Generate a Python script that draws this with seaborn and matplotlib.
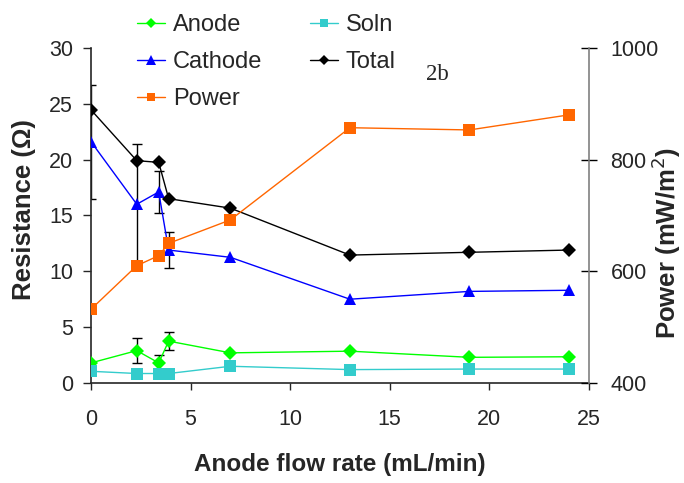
import numpy as np
import pandas as pd
import seaborn as sns
import matplotlib
matplotlib.use("Agg")
import matplotlib.pyplot as plt
from matplotlib.lines import Line2D

flow = [0, 2.3, 3.4, 3.9, 7, 13, 19, 24]
anode = [1.8, 2.9, 1.8, 3.75, 2.7, 2.85, 2.3, 2.35]
cathode = [21.6, 16.0, 17.1, 11.9, 11.25, 7.5, 8.2, 8.3]
soln = [1.05, 0.85, 0.85, 0.85, 1.5, 1.2, 1.25, 1.25]
total = [24.45, 19.9, 19.75, 16.5, 15.65, 11.45, 11.7, 11.9]
power = [532, 610, 628, 650, 692, 857, 853, 880]
cathode_err = [5.1, 5.4, 1.9, 1.6, 0, 0, 0, 0]
anode_err = [0, 1.1, 0.7, 0.8, 0, 0, 0, 0]

sns.set_style("ticks")
plt.rcParams['font.family'] = ['Liberation Sans', 'DejaVu Sans']

fig = plt.figure(figsize=(6.84, 4.83), dpi=100)
ax = fig.add_axes([0.133, 0.207, 0.728, 0.694])
ax2 = ax.twinx()

df = pd.DataFrame({"flow": flow, "Anode": anode, "Cathode": cathode,
                   "Soln": soln, "Total": total, "Power": power})

# error bars (black)
ce = np.array(cathode_err)
ae = np.array(anode_err)
m = ce > 0
ax.errorbar(np.array(flow)[m], np.array(cathode)[m], yerr=ce[m], fmt='none',
            ecolor='black', elinewidth=1, capsize=3.5, capthick=1, zorder=2)
m = ae > 0
ax.errorbar(np.array(flow)[m], np.array(anode)[m], yerr=ae[m], fmt='none',
            ecolor='black', elinewidth=1, capsize=3.5, capthick=1, zorder=2)

styles = {
    "Anode": dict(color="#00FF00", marker="D", ms=7),
    "Cathode": dict(color="#0000FF", marker="^", ms=8.5),
    "Soln": dict(color="#33CCCC", marker="s", ms=8),
    "Total": dict(color="black", marker="D", ms=7),
}
handles = {}
for name, st in styles.items():
    sns.lineplot(data=df, x="flow", y=name, ax=ax, color=st["color"], marker=st["marker"],
                 markersize=st["ms"], markeredgewidth=0, linewidth=1, zorder=3)
    handles[name] = ax.lines[-1]

sns.lineplot(data=df, x="flow", y="Power", ax=ax2, color="#FF6600", marker="s",
             markersize=8, markeredgewidth=0, linewidth=1, zorder=3)
handles["Power"] = ax2.lines[-1]

ax.set_xlim(0, 25)
ax.set_ylim(0, 30)
ax2.set_ylim(400, 1000)
ax.set_xticks([0, 5, 10, 15, 20, 25])
ax.set_yticks([0, 5, 10, 15, 20, 25, 30])
ax2.set_yticks([400, 600, 800, 1000])

for a in (ax, ax2):
    a.spines['top'].set_visible(False)
ax.spines['right'].set_visible(False)
ax2.spines['left'].set_visible(False)
ax2.spines['bottom'].set_visible(False)
ax2.spines['right'].set_color('#808080')
ax2.spines['right'].set_linewidth(1.2)
ax.spines['left'].set_linewidth(1.2)
ax.spines['bottom'].set_linewidth(1.2)

ax.tick_params(axis='x', labelsize=15.5, length=5, width=1, direction='out', pad=14)
ax.tick_params(axis='y', labelsize=15.5, length=6, width=1, direction='out', pad=7)
ax2.tick_params(axis='y', labelsize=15.5, length=11, width=1, direction='inout', pad=10,
                color='black')

ax.set_xlabel("")
ax.set_ylabel("")
ax2.set_ylabel("")
fig.text(340 / 684, 1 - 465 / 483, "Anode flow rate (mL/min)", fontsize=17.5,
         fontweight='bold', ha='center', va='center')
fig.text(24 / 684, 1 - 210 / 483, "Resistance (Ω)", fontsize=18.5,
         fontweight='bold', ha='center', va='center', rotation=90)
fig.text(666 / 684, 1 - 243 / 483, "Power (mW/m$^2$)", fontsize=18.5,
         fontweight='bold', ha='center', va='center', rotation=90)

ax.text(17.4, 27.6, "2b", fontsize=16.5, family=['Liberation Serif', 'DejaVu Serif'],
        ha='center', va='center')

order = ["Anode", "Cathode", "Power", "Soln", "Total"]
hl = []
for n in order:
    h = handles[n]
    hl.append(Line2D([], [], color=h.get_color(), marker=h.get_marker(),
                     markersize=h.get_markersize() * 0.8, markeredgewidth=0, linewidth=1))
fig.legend(hl, order, ncol=2, loc='upper left', bbox_to_anchor=(0.186, 0.99),
           frameon=False, fontsize=17, handlelength=1.2, handletextpad=0.34,
           columnspacing=2.0, labelspacing=0.63, borderaxespad=0)

fig.savefig("out.png", dpi=100)
